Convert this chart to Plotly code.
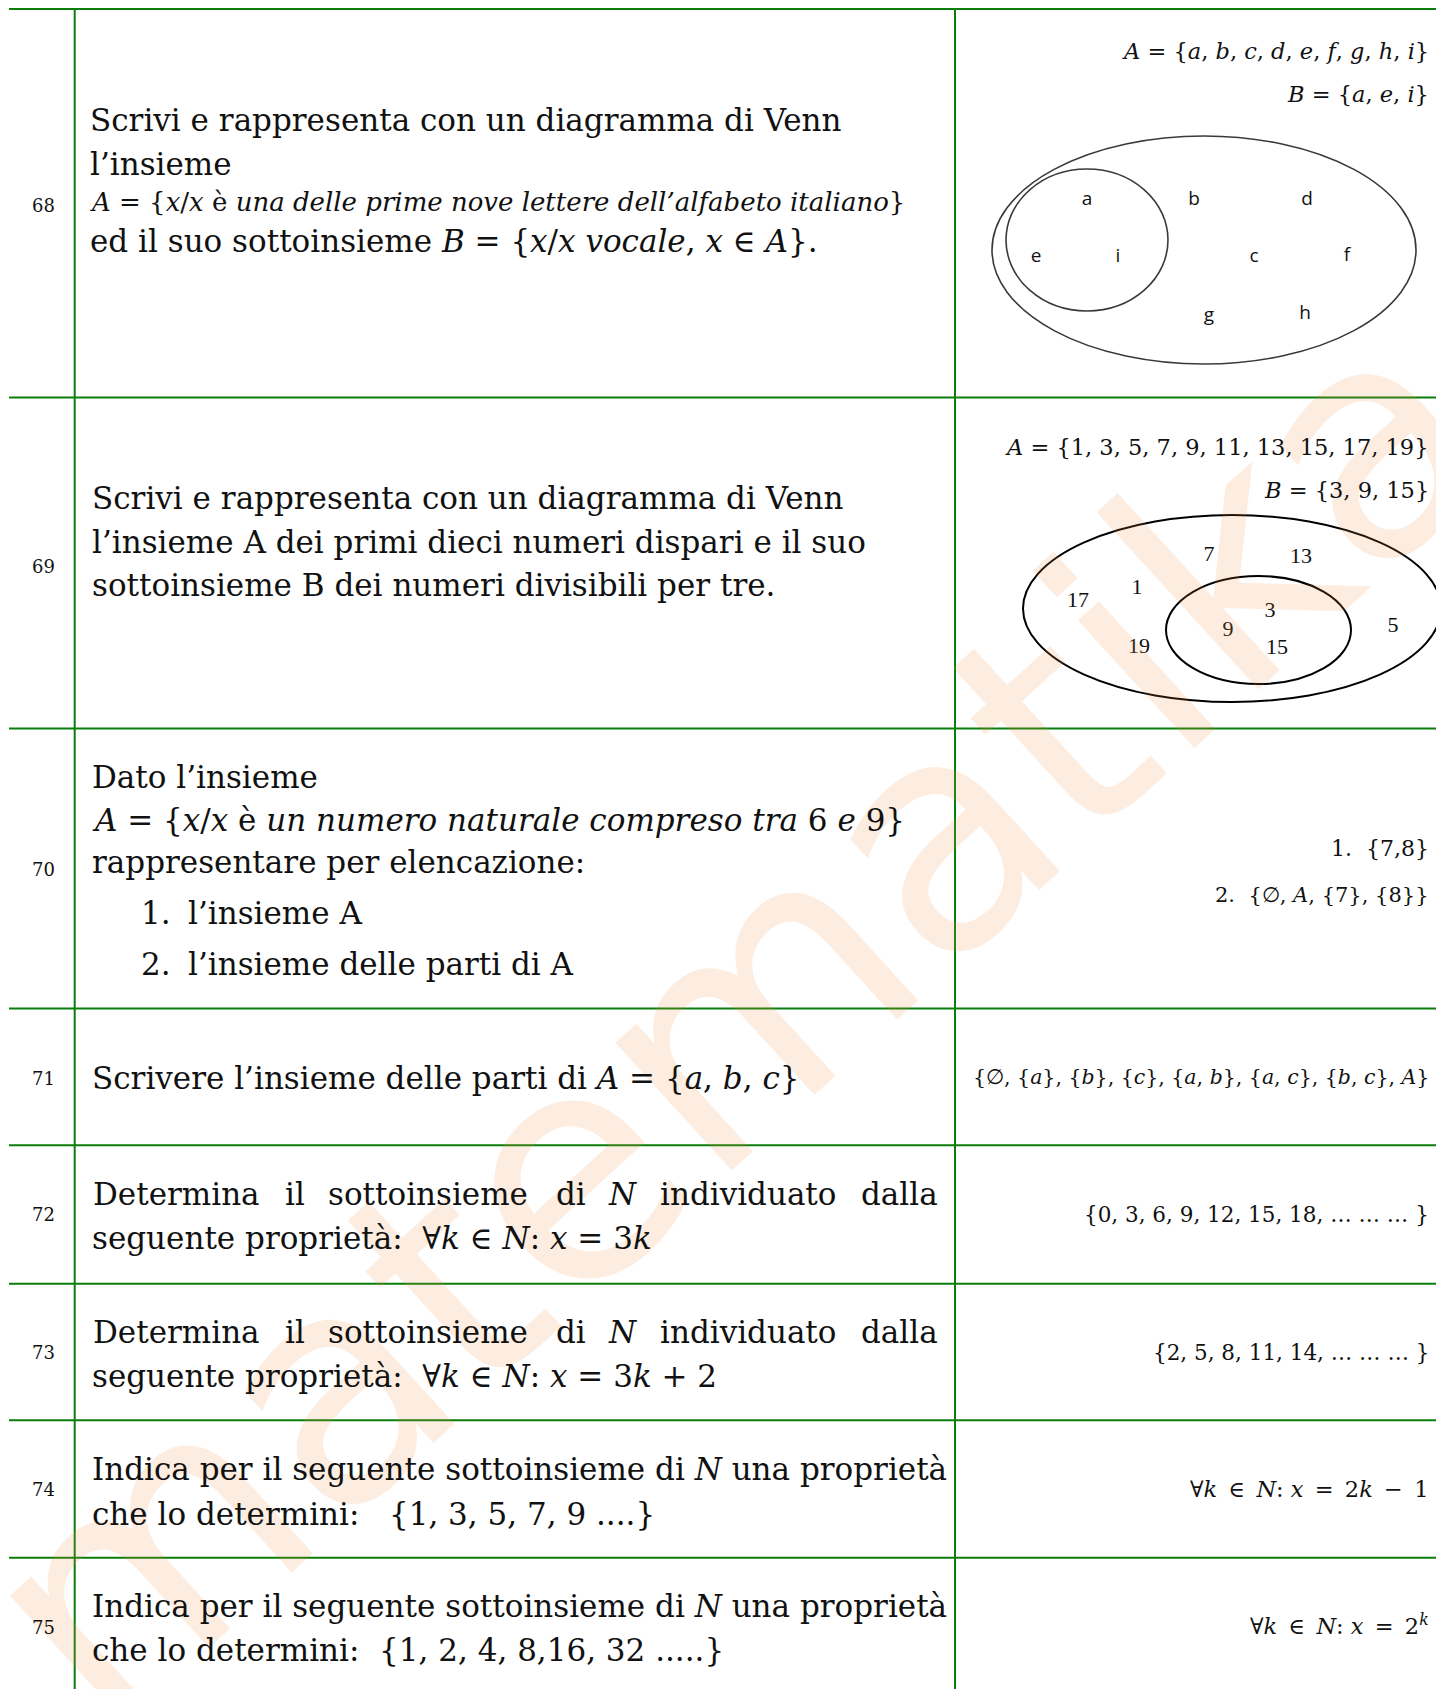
import plotly.graph_objects as go

W, H = 1436, 1689
NB = "\u00a0"
EN = "\u2002"

# exercise numbers and texts
row_numbers = ["68", "69", "70", "71", "72", "73", "74", "75"]

q68 = ["Scrivi e rappresenta con un diagramma di Venn",
       "l’insieme",
       "<i>A</i> = {<i>x</i>/<i>x</i> è <i>una delle prime nove lettere dell’alfabeto italiano</i>}",
       "ed il suo sottoinsieme <i>B</i> = {<i>x</i>/<i>x vocale</i>, <i>x</i> ∈ <i>A</i>}."]
q69 = ["Scrivi e rappresenta con un diagramma di Venn",
       "l’insieme A dei primi dieci numeri dispari e il suo",
       "sottoinsieme B dei numeri divisibili per tre."]
q70 = ["Dato l’insieme",
       "<i>A</i> = {<i>x</i>/<i>x</i> è <i>un numero naturale compreso tra</i> 6 <i>e</i> 9}",
       "rappresentare per elencazione:"]
q70_items = ["l’insieme A", "l’insieme delle parti di A"]
q71 = ["Scrivere l’insieme delle parti di <i>A</i> = {<i>a</i>, <i>b</i>, <i>c</i>}"]
q_determina = ["Determina", "il", "sottoinsieme", "di", "<i>N</i>", "individuato", "dalla"]
q72_2 = "seguente proprietà:  ∀<i>k</i> ∈ <i>N</i>: <i>x</i> = 3<i>k</i>"
q73_2 = "seguente proprietà:  ∀<i>k</i> ∈ <i>N</i>: <i>x</i> = 3<i>k</i> + 2"
q_indica = "Indica per il seguente sottoinsieme di <i>N</i> una proprietà"
q74_2 = "che lo determini:" + NB * 3 + "{1, 3, 5, 7, 9 ....}"
q75_2 = "che lo determini:" + NB * 2 + "{1, 2, 4, 8,16, 32 .....}"

# answers
a68 = ["<i>A</i> = {<i>a</i>, <i>b</i>, <i>c</i>, <i>d</i>, <i>e</i>, <i>f</i>, <i>g</i>, <i>h</i>, <i>i</i>}",
       "<i>B</i> = {<i>a</i>, <i>e</i>, <i>i</i>}"]
a69 = ["<i>A</i> = {1, 3, 5, 7, 9, 11, 13, 15, 17, 19}",
       "<i>B</i> = {3, 9, 15}"]
a70 = ["1.  {7,8}", "2.  {∅, <i>A</i>, {7}, {8}}"]
a71 = "{∅, {<i>a</i>}, {<i>b</i>}, {<i>c</i>}, {<i>a</i>, <i>b</i>}, {<i>a</i>, <i>c</i>}, {<i>b</i>, <i>c</i>}, <i>A</i>}"
a72 = "{0, 3, 6, 9, 12, 15, 18, … … … }"
a73 = "{2, 5, 8, 11, 14, … … … }"
a74 = f"∀<i>k</i>{EN}∈{EN}<i>N</i>:{NB}<i>x</i>{EN}={EN}2<i>k</i>{EN}−{EN}1"
a75 = f"∀<i>k</i>{EN}∈{EN}<i>N</i>:{NB}<i>x</i>{EN}={EN}2<sup><i>k</i></sup>"

# Venn diagram elements
venn68_labels = ["a", "e", "i", "b", "d", "c", "f", "g", "h"]
venn68_x = [1087, 1036, 1118, 1194, 1307, 1254, 1347, 1209, 1305]
venn68_y = [200, 257, 257, 200, 200, 257, 256, 316, 314]
venn69_labels = ["7", "13", "17", "1", "3", "9", "5", "19", "15"]
venn69_x = [1209, 1301, 1078, 1137, 1270, 1228, 1393, 1139, 1277]
venn69_y = [555, 557, 601, 588, 611, 630, 626, 647, 648]

# table layout
row_lines = [9, 397.5, 728.5, 1008.5, 1145.3, 1283.8, 1420.3, 1557.7]
row_centers = [205, 566, 869, 1078, 1214, 1352, 1489, 1627]
col_lines = [74.7, 955]
GREEN = "#0b7d0b"
SERIF = "DejaVu Serif"
BODY = 31

fig = go.Figure()

# watermark
fig.add_annotation(x=850, y=915, text="matematika.it", showarrow=False, textangle=-42.4,
                   font=dict(family="DejaVu Sans", size=316, color="rgba(245,140,60,0.16)"),
                   xanchor="center", yanchor="middle")

for y in row_lines:
    fig.add_shape(type="line", x0=9, x1=W, y0=y, y1=y, line=dict(color=GREEN, width=2))
for x in col_lines:
    fig.add_shape(type="line", x0=x, x1=x, y0=row_lines[0], y1=H, line=dict(color=GREEN, width=2))


def txt(x, y, s, size=BODY, anchor="left", family=SERIF, color="#111"):
    fig.add_annotation(x=x, y=y, text=s, showarrow=False, xanchor=anchor, yanchor="middle",
                       font=dict(family=family, size=size, color=color))


for n, y in zip(row_numbers, row_centers):
    txt(43, y, n, size=18, anchor="center")

# question column
txt(88, 120, q68[0])
txt(88, 164, q68[1])
txt(88, 202, q68[2], size=26)
txt(88, 241, q68[3])
for s, y in zip(q69, [498, 542, 585]):
    txt(90, y, s)
for s, y in zip(q70, [777, 820, 862]):
    txt(90, y, s)
for i, (s, y) in enumerate(zip(q70_items, [913, 964])):
    txt(139, y, f"{i + 1}.")
    txt(186, y, s)
txt(90, 1078, q71[0])

word_x = [91, 283, 326, 554, 606, 658, 940]
for y in [1194, 1332]:
    for w, x in zip(q_determina, word_x):
        txt(x, y, w, anchor="right" if w == q_determina[-1] else "left")
txt(90, 1238, q72_2)
txt(90, 1376, q73_2)
txt(90, 1469, q_indica)
txt(90, 1514, q74_2)
txt(90, 1606, q_indica)
txt(90, 1650, q75_2)

# answer column
RX = 1431
txt(RX, 51, a68[0], size=22.5, anchor="right")
txt(RX, 94, a68[1], size=22.5, anchor="right")
txt(RX, 447, a69[0], size=22.5, anchor="right")
txt(RX, 490, a69[1], size=22.5, anchor="right")
txt(RX, 848, a70[0], size=22, anchor="right")
txt(RX, 895, a70[1], size=21, anchor="right")
txt(RX, 1077, a71, size=20.5, anchor="right")
txt(RX, 1214, a72, size=21.5, anchor="right")
txt(RX, 1352, a73, size=21.5, anchor="right")
txt(RX, 1489, a74, size=22.5, anchor="right")
txt(RX, 1624, a75, size=22.5, anchor="right")

# Venn ellipses
fig.add_shape(type="circle", x0=992, x1=1416, y0=136, y1=364, line=dict(color="#3a3a3a", width=1.6))
fig.add_shape(type="circle", x0=1006, x1=1168, y0=169, y1=311, line=dict(color="#3a3a3a", width=1.6))
fig.add_shape(type="circle", x0=1023, x1=1441, y0=515, y1=702, line=dict(color="#000", width=2))
fig.add_shape(type="circle", x0=1166, x1=1351, y0=576, y1=684, line=dict(color="#000", width=2))

fig.add_trace(go.Scatter(x=venn68_x, y=venn68_y, text=venn68_labels, mode="text",
                         textfont=dict(family="Open Sans", size=19, color="#111"),
                         hoverinfo="skip", showlegend=False))
fig.add_trace(go.Scatter(x=venn69_x, y=venn69_y, text=venn69_labels, mode="text",
                         textfont=dict(family="Liberation Serif", size=22, color="#111"),
                         hoverinfo="skip", showlegend=False))

fig.update_layout(width=W, height=H, margin=dict(l=0, r=0, t=0, b=0),
                  paper_bgcolor="white", plot_bgcolor="white", showlegend=False)
fig.update_xaxes(range=[0, W], visible=False, fixedrange=True)
fig.update_yaxes(range=[H, 0], visible=False, fixedrange=True)

fig.write_html("out.html", config={"displayModeBar": False, "staticPlot": True},
               post_script="document.body.style.margin='0';document.body.style.overflow='hidden';")
